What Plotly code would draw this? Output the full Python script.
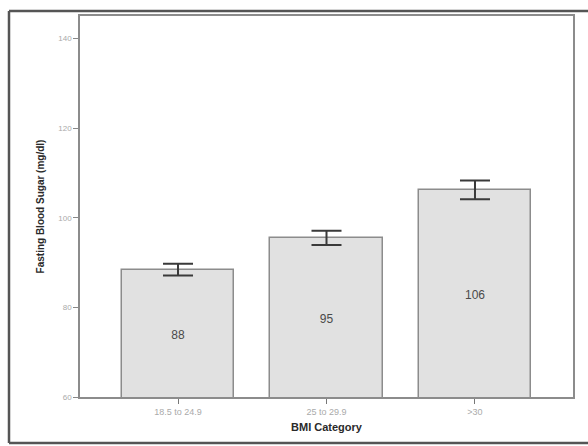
import plotly.graph_objects as go

categories = ["18.5 to 24.9", "25 to 29.9", ">30"]
means = [88.4, 95.5, 106.2]
errors = [1.3, 1.6, 2.1]
labels = ["88", "95", "106"]
y_ticks = [60, 80, 100, 120, 140]
y_min, y_max = 60, 145

fig = go.Figure()
fig.add_trace(go.Bar(
    x=categories, y=means,
    width=0.755,
    marker=dict(color="#e1e1e1", line=dict(color="#8c8c8c", width=1.5)),
    error_y=dict(type="data", array=errors, visible=True, color="#3a3a3a", thickness=2, width=15),
    hoverinfo="skip",
))
# value labels at the middle of the visible part of each bar
fig.add_trace(go.Scatter(
    x=categories, y=[(y_min + m) / 2 - 0.6 for m in means],
    mode="text", text=labels,
    textfont=dict(family="Liberation Sans, Arial", size=12, color="#4a4a4a"),
    hoverinfo="skip",
))

fig.update_layout(
    width=588, height=446,
    margin=dict(l=80, r=15, t=16, b=49),
    paper_bgcolor="white", plot_bgcolor="white",
    showlegend=False,
    font=dict(family="Liberation Sans, Arial", color="#333"),
    bargap=0,
)
fig.update_xaxes(
    range=[-0.66, 2.66],
    showline=True, linecolor="#8c8c8c", linewidth=1.5, mirror=True,
    ticks="outside", ticklen=5, tickcolor="#777", tickwidth=1,
    tickfont=dict(size=9, color="#aaaaaa"),
    showgrid=False,
    title=dict(text="<b>BMI Category</b>", font=dict(size=11, color="#2a2a2a", family="Liberation Sans, Arial"), standoff=8),
)
fig.update_yaxes(
    range=[y_min, y_max],
    tickvals=y_ticks,
    showline=True, linecolor="#8c8c8c", linewidth=1.5, mirror=True,
    ticks="outside", ticklen=5, tickcolor="#888", tickwidth=1,
    tickfont=dict(size=8, color="#aaaaaa"),
    showgrid=False, zeroline=False,
    title=dict(text="<b>Fasting Blood Sugar (mg/dl)</b>", font=dict(size=10, color="#2a2a2a", family="Liberation Sans, Arial"), standoff=12),
)

# outer frame: left, top and bottom edges running off the right of the image
fx0 = (9 - 80) / 493
fx1 = (588 - 80) / 493
fy0 = -(443 - 397) / 381
fy1 = 1 + (16 - 11) / 381
for x0, y0, x1, y1 in [(fx0, fy0, fx0, fy1), (fx0, fy1, fx1, fy1), (fx0, fy0, fx1, fy0)]:
    fig.add_shape(type="line", xref="paper", yref="paper",
                  x0=x0, y0=y0, x1=x1, y1=y1,
                  line=dict(color="#555555", width=2.5), layer="above")

fig.write_html("out.html", config={"displayModeBar": False},
               post_script="document.body.style.margin='0';document.body.style.overflow='hidden';"
                           "document.documentElement.style.overflow='hidden';")
